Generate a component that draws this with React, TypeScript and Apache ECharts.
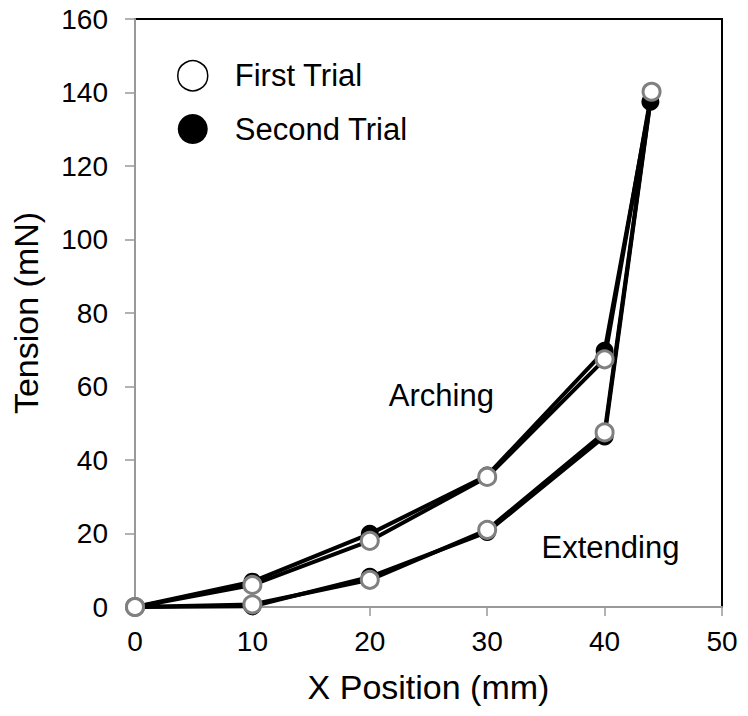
import React, { useEffect, useRef } from "react";
import * as echarts from "echarts";

const xFirst = [0, 10, 20, 30, 40, 44, 40, 30, 20, 10, 0];
const yFirst = [0, 6, 18, 35.4, 67.4, 140.2, 47.5, 21, 7.4, 0.7, 0];
const xSecond = [0, 10, 20, 30, 40, 43.9, 40, 30, 20, 10, 0];
const ySecond = [0, 6.9, 19.9, 35.8, 69.7, 137.5, 46.4, 20.4, 8.2, 0.2, 0];
const xTicks = [0, 10, 20, 30, 40, 50];
const yTicks = [0, 20, 40, 60, 80, 100, 120, 140, 160];
const seriesNames = ["First Trial", "Second Trial"];
const annotations = [
  { text: "Arching", x: 26.1, y: 57.6 },
  { text: "Extending", x: 40.5, y: 16.2 },
];

const FONT = "'Liberation Sans', Arial, sans-serif";

export default function App() {
  const ref = useRef<HTMLDivElement>(null);
  useEffect(() => {
    if (!ref.current) return;
    const chart = echarts.init(ref.current, null, { renderer: "svg" });
    const pair = (xs: number[], ys: number[]) => xs.map((x, i) => [x, ys[i]]);
    chart.setOption({
      animation: false,
      backgroundColor: "#fff",
      textStyle: { fontFamily: FONT },
      grid: {
        left: 135,
        top: 19,
        right: 26,
        bottom: 109,
        show: true,
        borderColor: "#000",
        borderWidth: 2,
        backgroundColor: "transparent",
      },
      legend: {
        orient: "vertical",
        left: 172,
        top: 55,
        itemWidth: 30,
        itemHeight: 30,
        itemGap: 22,
        selectedMode: false,
        textStyle: { fontSize: 31, color: "#000", fontFamily: FONT, padding: [0, 0, 0, 22] },
        data: [
          { name: seriesNames[0], icon: "circle", itemStyle: { color: "#fff", borderColor: "#000", borderWidth: 1.5 } },
          { name: seriesNames[1], icon: "circle", itemStyle: { color: "#000", borderColor: "#000", borderWidth: 0 } },
        ],
      },
      xAxis: {
        type: "value",
        min: xTicks[0],
        max: xTicks[xTicks.length - 1],
        interval: 10,
        name: "X Position (mm)",
        nameLocation: "middle",
        nameGap: 63,
        nameTextStyle: { fontSize: 34, color: "#000", fontFamily: FONT },
        axisLine: { show: true, lineStyle: { color: "#999", width: 2 } },
        axisTick: { show: true, length: 9, lineStyle: { color: "#999", width: 1.5 } },
        axisLabel: { fontSize: 28, color: "#000", margin: 20, fontFamily: FONT },
        splitLine: { show: false },
      },
      yAxis: {
        type: "value",
        min: yTicks[0],
        max: yTicks[yTicks.length - 1],
        interval: 20,
        name: "Tension (mN)",
        nameLocation: "middle",
        nameGap: 92,
        nameTextStyle: { fontSize: 34, color: "#000", fontFamily: FONT },
        axisLine: { show: true, lineStyle: { color: "#999", width: 2 } },
        axisTick: { show: true, length: 10, lineStyle: { color: "#999", width: 1.5 } },
        axisLabel: { fontSize: 28, color: "#000", margin: 27, fontFamily: FONT },
        splitLine: { show: false },
      },
      series: [
        {
          name: seriesNames[1],
          type: "line",
          data: pair(xSecond, ySecond),
          symbol: "circle",
          symbolSize: 18,
          showAllSymbol: true,
          lineStyle: { color: "#000", width: 4 },
          itemStyle: { color: "#000", borderColor: "#000", borderWidth: 0 },
          z: 2,
        },
        {
          name: seriesNames[0],
          type: "line",
          data: pair(xFirst, yFirst),
          symbol: "circle",
          symbolSize: 17,
          showAllSymbol: true,
          lineStyle: { color: "#000", width: 4 },
          itemStyle: { color: "#fff", borderColor: "#808080", borderWidth: 3 },
          z: 3,
        },
        {
          type: "scatter",
          data: annotations.map((a) => [a.x, a.y]),
          symbolSize: 0,
          silent: true,
          itemStyle: { color: "#000", opacity: 1 },
          label: {
            show: true,
            position: "inside",
            formatter: (p: any) => annotations[p.dataIndex].text,
            fontSize: 31,
            color: "#000",
            opacity: 1,
            textBorderWidth: 0,
            fontFamily: FONT,
          },
          z: 4,
        },
      ],
    });
    return () => chart.dispose();
  }, []);
  return (
    <div
      ref={ref}
      style={{ position: "fixed", left: 0, top: 0, width: 748, height: 716, background: "#fff" }}
    />
  );
}
